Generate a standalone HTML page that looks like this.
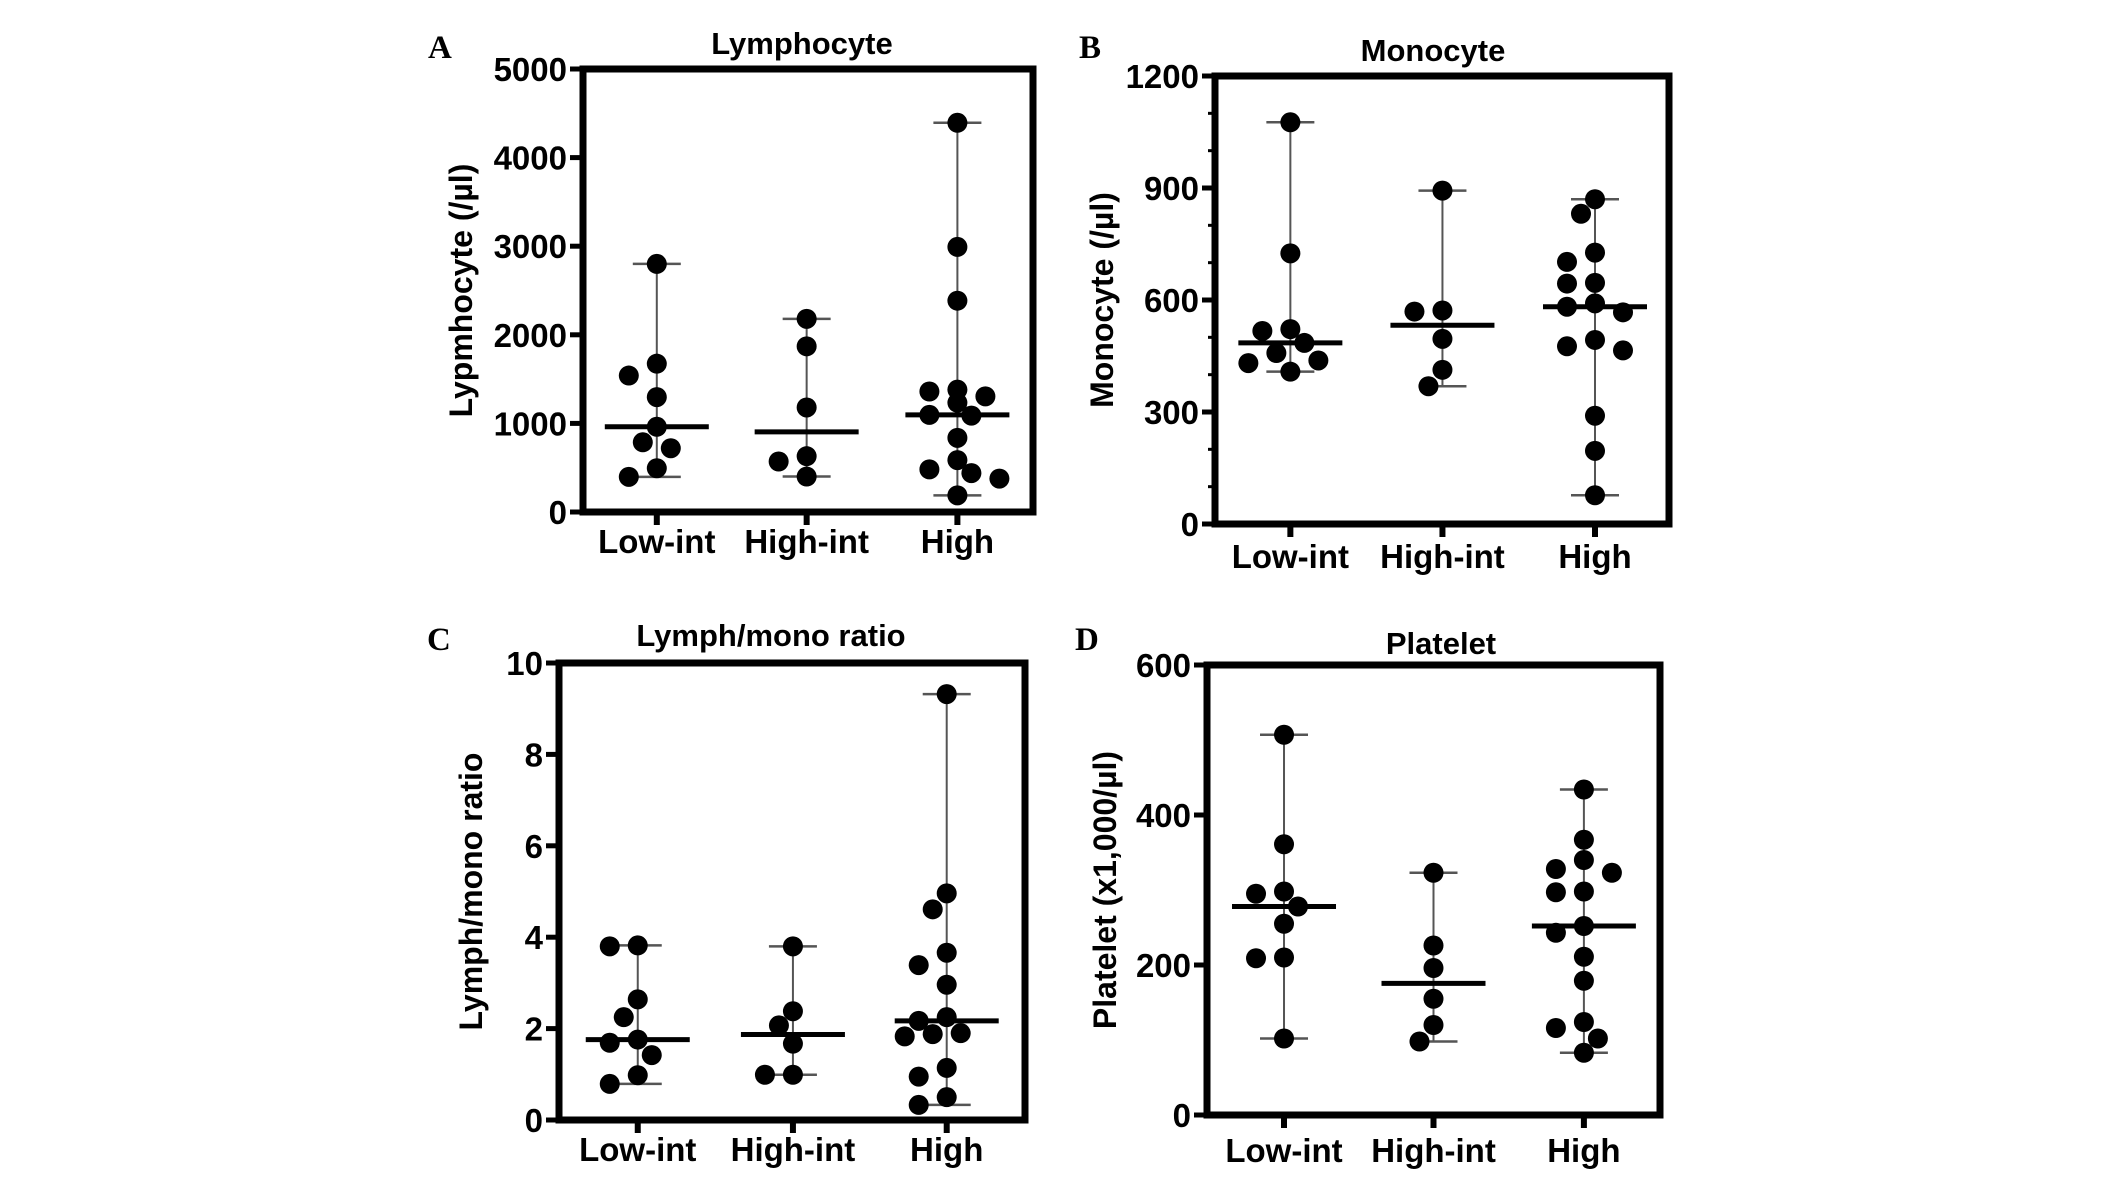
<!DOCTYPE html>
<html><head><meta charset="utf-8"><style>
html,body{margin:0;padding:0;background:#fff;}
svg{display:block;font-family:"Liberation Sans",Arial,sans-serif;}
</style></head><body>
<svg id="fig" width="2126" height="1181" viewBox="0 0 2126 1181" xmlns="http://www.w3.org/2000/svg"></svg>
<script>
const categories = ["Low-int", "High-int", "High"];
const lymphLow = [2800, 1674, 1540, 1297, 962, 787, 720, 494, 397];
const lymphHighInt = [2180, 1870, 1180, 630, 570, 400];
const lymphHigh = [4393, 2992, 2385, 1381, 1360, 1305, 1234, 1096, 1088, 837, 586, 481, 439, 377, 188];
const monoLow = [1076, 725, 522, 517, 485, 458, 438, 431, 408];
const monoHighInt = [893, 572, 569, 496, 413, 369];
const monoHigh = [870, 831, 727, 702, 646, 644, 591, 582, 567, 493, 476, 465, 290, 196, 77];
const ratioLow = [3.82, 3.80, 2.64, 2.25, 1.76, 1.69, 1.42, 0.98, 0.79];
const ratioHighInt = [3.8, 2.38, 2.07, 1.67, 0.99, 0.99];
const ratioHigh = [9.32, 4.96, 4.61, 3.66, 3.39, 2.96, 2.25, 2.17, 1.90, 1.88, 1.83, 1.14, 0.95, 0.50, 0.33];
const platLow = [507, 361, 298, 295, 278, 255, 210, 209, 102];
const platHighInt = [323, 226, 196, 155, 120, 98];
const platHigh = [434, 367, 340, 328, 323, 298, 297, 252, 243, 211, 179, 124, 116, 102, 83];
const lymphTicks = [0, 1000, 2000, 3000, 4000, 5000];
const monoTicks = [0, 300, 600, 900, 1200];
const ratioTicks = [0, 2, 4, 6, 8, 10];
const platTicks = [0, 200, 400, 600];

const NS = "http://www.w3.org/2000/svg";
const svg = document.getElementById("fig");
function mk(tag, attrs, parent, text) {
  const e = document.createElementNS(NS, tag);
  for (const k in attrs) e.setAttribute(k, attrs[k]);
  if (text !== undefined) e.textContent = text;
  (parent || svg).appendChild(e);
  return e;
}
function median(a) {
  const s = a.slice().sort((x, y) => x - y), n = s.length;
  return n % 2 ? s[(n - 1) / 2] : (s[n / 2 - 1] + s[n / 2]) / 2;
}

function panel(cfg) {
  const g = mk("g", {});
  
  
  const yMax = cfg.ticks[cfg.ticks.length - 1];
  const y = v => cfg.bottom - (v / yMax) * (cfg.bottom - cfg.top);
  const x = i => cfg.left + cfg.catFrac[i] * (cfg.right - cfg.left);

  const letter = mk("text", {x: cfg.letterX, y: cfg.letterY, "font-family": "Liberation Serif, serif", "font-weight": "bold", "font-size": 33}, g, cfg.letter);
  
  
  const title = mk("text", {x: cfg.titleX, y: cfg.titleY, "text-anchor": "middle", "font-weight": "bold", "font-size": 31}, g, cfg.title);
  
  

  const yl = mk("text", {x: 0, y: 0, transform: `translate(${cfg.ylabX},${(cfg.top + cfg.bottom) / 2}) rotate(-90)`, "text-anchor": "middle", "font-weight": "bold", "font-size": 32}, g, cfg.ylabel);
  
  

  cfg.ticks.forEach(t => {
    const tk = mk("line", {x1: cfg.left - 13, x2: cfg.left, y1: y(t), y2: y(t), stroke: "#000", "stroke-width": 5}, g);
    
    
    const lb = mk("text", {x: cfg.left - 16, y: y(t) + 12, "text-anchor": "end", "font-weight": "bold", "font-size": 33}, g, String(t));
    
    
  });
  if (cfg.minor) {
    for (let v = cfg.minor; v < yMax; v += cfg.minor) {
      if (cfg.ticks.indexOf(v) >= 0) continue;
      const m = mk("line", {x1: cfg.left - 7, x2: cfg.left, y1: y(v), y2: y(v), stroke: "#000", "stroke-width": 3}, g);
      
      
    }
  }
  categories.forEach((c, i) => {
    const tk = mk("line", {x1: x(i), x2: x(i), y1: cfg.bottom, y2: cfg.bottom + 13, stroke: "#000", "stroke-width": 6}, g);
    
    
    const lb = mk("text", {x: x(i), y: cfg.xlabY, "text-anchor": "middle", "font-weight": "bold", "font-size": 33}, g, c);
    
    
  });

  cfg.series.forEach((vals, i) => {
    const cx = x(i);
    const mn = Math.min(...vals), mx = Math.max(...vals), md = median(vals);
    const wl = mk("line", {x1: cx, x2: cx, y1: y(mx), y2: y(mn), stroke: "#555", "stroke-width": 2}, g);
    
    
    [mn, mx].forEach(v => {
      const cap = mk("line", {x1: cx - 24, x2: cx + 24, y1: y(v), y2: y(v), stroke: "#555", "stroke-width": 2.5}, g);
      
      
    });
    const ml = mk("line", {x1: cx - 52, x2: cx + 52, y1: y(md), y2: y(md), stroke: "#000", "stroke-width": 5}, g);
    
    
    const placed = [];
    const steps = [0, -1, 1, -2, 2, -3, 3];
    vals.forEach(v => {
      const py = y(v);
      let px = cx;
      for (const s of steps) {
        const cand = cx + s * 14;
        if (placed.every(p => Math.hypot(p[0] - cand, p[1] - py) >= 19)) { px = cand; break; }
      }
      placed.push([px, py]);
      const d = mk("circle", {cx: px, cy: py, r: 10, fill: "#000"}, g);
      
      
    });
  });

  const box = mk("rect", {x: cfg.left, y: cfg.top, width: cfg.right - cfg.left, height: cfg.bottom - cfg.top, fill: "none", stroke: "#000", "stroke-width": 7}, g);
  
  
}

panel({name: "panel-a-lymphocyte", letter: "A", letterX: 428, letterY: 58, title: "Lymphocyte", titleX: 802, titleY: 54,
  ylabel: "Lypmhocyte (/µl)", ylabX: 472, left: 583, right: 1033, top: 69, bottom: 512,
  catFrac: [0.164, 0.497, 0.832], ticks: lymphTicks, xlabY: 553, series: [lymphLow, lymphHighInt, lymphHigh]});
panel({name: "panel-b-monocyte", letter: "B", letterX: 1079, letterY: 58, title: "Monocyte", titleX: 1433, titleY: 61,
  ylabel: "Monocyte (/µl)", ylabX: 1113, left: 1215, right: 1669, top: 76, bottom: 524, minor: 100,
  catFrac: [0.166, 0.501, 0.837], ticks: monoTicks, xlabY: 568, series: [monoLow, monoHighInt, monoHigh]});
panel({name: "panel-c-lymph-mono-ratio", letter: "C", letterX: 427, letterY: 650, title: "Lymph/mono ratio", titleX: 771, titleY: 646,
  ylabel: "Lymph/mono ratio", ylabX: 482, left: 559, right: 1025, top: 663, bottom: 1120,
  catFrac: [0.169, 0.502, 0.832], ticks: ratioTicks, xlabY: 1161, series: [ratioLow, ratioHighInt, ratioHigh]});
panel({name: "panel-d-platelet", letter: "D", letterX: 1075, letterY: 650, title: "Platelet", titleX: 1441, titleY: 654,
  ylabel: "Platelet (x1,000/µl)", ylabX: 1116, left: 1207, right: 1660, top: 665, bottom: 1115,
  catFrac: [0.17, 0.5, 0.832], ticks: platTicks, xlabY: 1162, series: [platLow, platHighInt, platHigh]});
</script>
</body></html>
